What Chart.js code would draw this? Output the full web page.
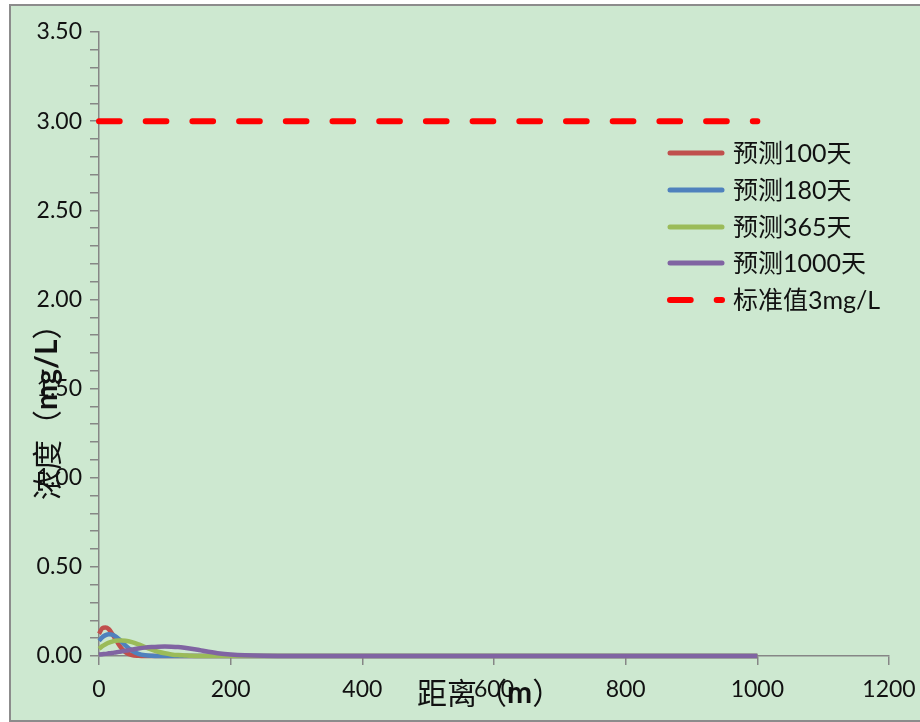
<!DOCTYPE html>
<html>
<head>
<meta charset="utf-8">
<script src="https://cdn.jsdelivr.net/npm/chart.js@4"></script>
<style>
  body { margin: 0; background: #fff; }
</style>
</head>
<body>
<canvas id="chart" width="920" height="722"></canvas>
<script>
// distance (m) sample points shared by the four forecast curves
let distances = [0, 5, 10, 15, 20, 25, 30, 35, 40, 50, 60, 70, 80, 90, 100, 110, 120, 130, 140, 150, 160, 180, 200, 250, 300, 400, 600, 800, 1000];

let day100 = [0.125, 0.155, 0.16, 0.15, 0.125, 0.095, 0.065, 0.04, 0.022, 0.005, 0.001, 0, 0, 0, 0, 0, 0, 0, 0, 0, 0, 0, 0, 0, 0, 0, 0, 0, 0];
let day180 = [0.085, 0.105, 0.117, 0.122, 0.12, 0.11, 0.095, 0.078, 0.06, 0.03, 0.012, 0.004, 0.001, 0, 0, 0, 0, 0, 0, 0, 0, 0, 0, 0, 0, 0, 0, 0, 0];
let day365 = [0.04, 0.055, 0.066, 0.075, 0.081, 0.085, 0.087, 0.087, 0.086, 0.078, 0.065, 0.05, 0.036, 0.024, 0.015, 0.009, 0.005, 0.003, 0.001, 0.0005, 0, 0, 0, 0, 0, 0, 0, 0, 0];
let day1000 = [0.008, 0.010, 0.012, 0.015, 0.017, 0.02, 0.023, 0.026, 0.03, 0.036, 0.042, 0.047, 0.05, 0.052, 0.053, 0.052, 0.05, 0.046, 0.041, 0.035, 0.028, 0.016, 0.008, 0.001, 0, 0, 0, 0, 0];

let standardX = [0, 1000];
let standardY = [3, 3];

let seriesLabels = ['预测100天', '预测180天', '预测365天', '预测1000天', '标准值3mg/L'];

function toPoints(xs, ys) {
    return xs.map((x, i) => ({ x: x, y: ys[i] }));
}

const bgAndText = {
    id: 'bgAndText',
    beforeDraw(chart) {
        let ctx = chart.ctx;
        ctx.save();
        ctx.fillStyle = '#ffffff';
        ctx.fillRect(0, 0, chart.width, chart.height);
        ctx.fillStyle = 'rgb(205, 232, 208)';
        ctx.fillRect(10, 5, chart.width, 716);
        ctx.strokeStyle = 'rgb(140, 140, 140)';
        ctx.lineWidth = 2;
        ctx.beginPath();
        ctx.moveTo(chart.width + 5, 5);
        ctx.lineTo(10, 5);
        ctx.lineTo(10, 721);
        ctx.lineTo(chart.width + 5, 721);
        ctx.stroke();
        ctx.restore();
    },
    afterDraw(chart) {
        let ctx = chart.ctx;
        ctx.save();

        // legend
        let rowY = [153, 190, 227, 263, 300];
        chart.data.datasets.forEach((ds, i) => {
            let y = rowY[i];
            ctx.beginPath();
            ctx.strokeStyle = ds.borderColor;
            ctx.lineWidth = ds.borderDash ? 6 : 5;
            ctx.lineCap = 'round';
            ctx.setLineDash(ds.borderDash || []);
            ctx.moveTo(670, y);
            ctx.lineTo(722, y);
            ctx.stroke();
            ctx.setLineDash([]);
            ctx.fillStyle = '#111';
            ctx.font = '25px Lato, "Noto Sans CJK SC"';
            ctx.textBaseline = 'middle';
            ctx.textAlign = 'left';
            ctx.fillText(seriesLabels[i], 733, y + 1);
        });

        // axis titles (drawn over the tick labels like the original)
        function drawPieces(pieces, x, y) {
            let cx = x;
            for (let p of pieces) {
                ctx.font = p[1];
                ctx.fillText(p[0], cx, y);
                cx += ctx.measureText(p[0]).width;
            }
        }
        let normal = '30px "Noto Sans CJK SC"';
        let bold = 'bold 30px Lato, "Noto Sans CJK SC"';
        ctx.fillStyle = '#111';
        ctx.textBaseline = 'middle';
        ctx.textAlign = 'left';
        drawPieces([['距离（', normal], ['m', bold], ['）', normal]], 417, 693);

        ctx.translate(47, 500);
        ctx.rotate(-Math.PI / 2);
        drawPieces([['浓度（', normal], ['mg/L', bold], ['）', normal]], 0, 0);
        ctx.restore();
    }
};

let ctx = document.getElementById('chart').getContext('2d');
new Chart(ctx, {
    type: 'line',
    data: {
        datasets: [
            { label: seriesLabels[0], data: toPoints(distances, day100), borderColor: 'rgb(192, 80, 77)', borderWidth: 4.5, order: 4 },
            { label: seriesLabels[1], data: toPoints(distances, day180), borderColor: 'rgb(79, 129, 189)', borderWidth: 4.5, order: 3 },
            { label: seriesLabels[2], data: toPoints(distances, day365), borderColor: 'rgb(155, 187, 89)', borderWidth: 4.5, order: 2 },
            { label: seriesLabels[3], data: toPoints(distances, day1000), borderColor: 'rgb(128, 100, 162)', borderWidth: 4.5, order: 1 },
            {
                label: seriesLabels[4], data: toPoints(standardX, standardY), borderColor: 'rgb(255, 0, 0)',
                borderWidth: 6, borderDash: [20.7, 26], borderDashOffset: 0, borderCapStyle: 'round',
                order: 0, tension: 0, cubicInterpolationMode: 'default'
            }
        ]
    },
    options: {
        responsive: false,
        animation: false,
        layout: { padding: { left: 0, top: 32, right: 31, bottom: 0 } },
        elements: {
            point: { radius: 0 },
            line: { cubicInterpolationMode: 'monotone', fill: false }
        },
        datasets: { line: { clip: 10 } },
        plugins: {
            legend: { display: false },
            tooltip: { enabled: false }
        },
        scales: {
            x: {
                type: 'linear',
                min: 0,
                max: 1200,
                afterFit: scale => {
                    scale.height = 66;
                    scale.paddingLeft = 0;
                    scale.paddingRight = 0;
                },
                ticks: {
                    stepSize: 200,
                    color: '#111',
                    padding: 11,
                    font: { family: 'Lato', size: 23 },
                    callback: value => String(value)
                },
                grid: { drawOnChartArea: false, tickLength: 9, color: '#868686', lineWidth: 1.5 },
                border: { color: '#868686', width: 1.5 }
            },
            y: {
                min: 0,
                max: 3.5,
                afterFit: scale => {
                    scale.width = 99;
                    scale.paddingTop = 0;
                    scale.paddingBottom = 0;
                },
                ticks: {
                    stepSize: 0.1,
                    autoSkip: false,
                    color: '#111',
                    padding: 8,
                    font: { family: 'Lato', size: 23 },
                    callback: value => Math.abs(value * 2 - Math.round(value * 2)) < 1e-6 ? value.toFixed(2) : ''
                },
                grid: { drawOnChartArea: false, tickLength: 9, color: '#868686', lineWidth: 1.5 },
                border: { color: '#868686', width: 1.5 }
            }
        }
    },
    plugins: [bgAndText]
});
</script>
</body>
</html>
